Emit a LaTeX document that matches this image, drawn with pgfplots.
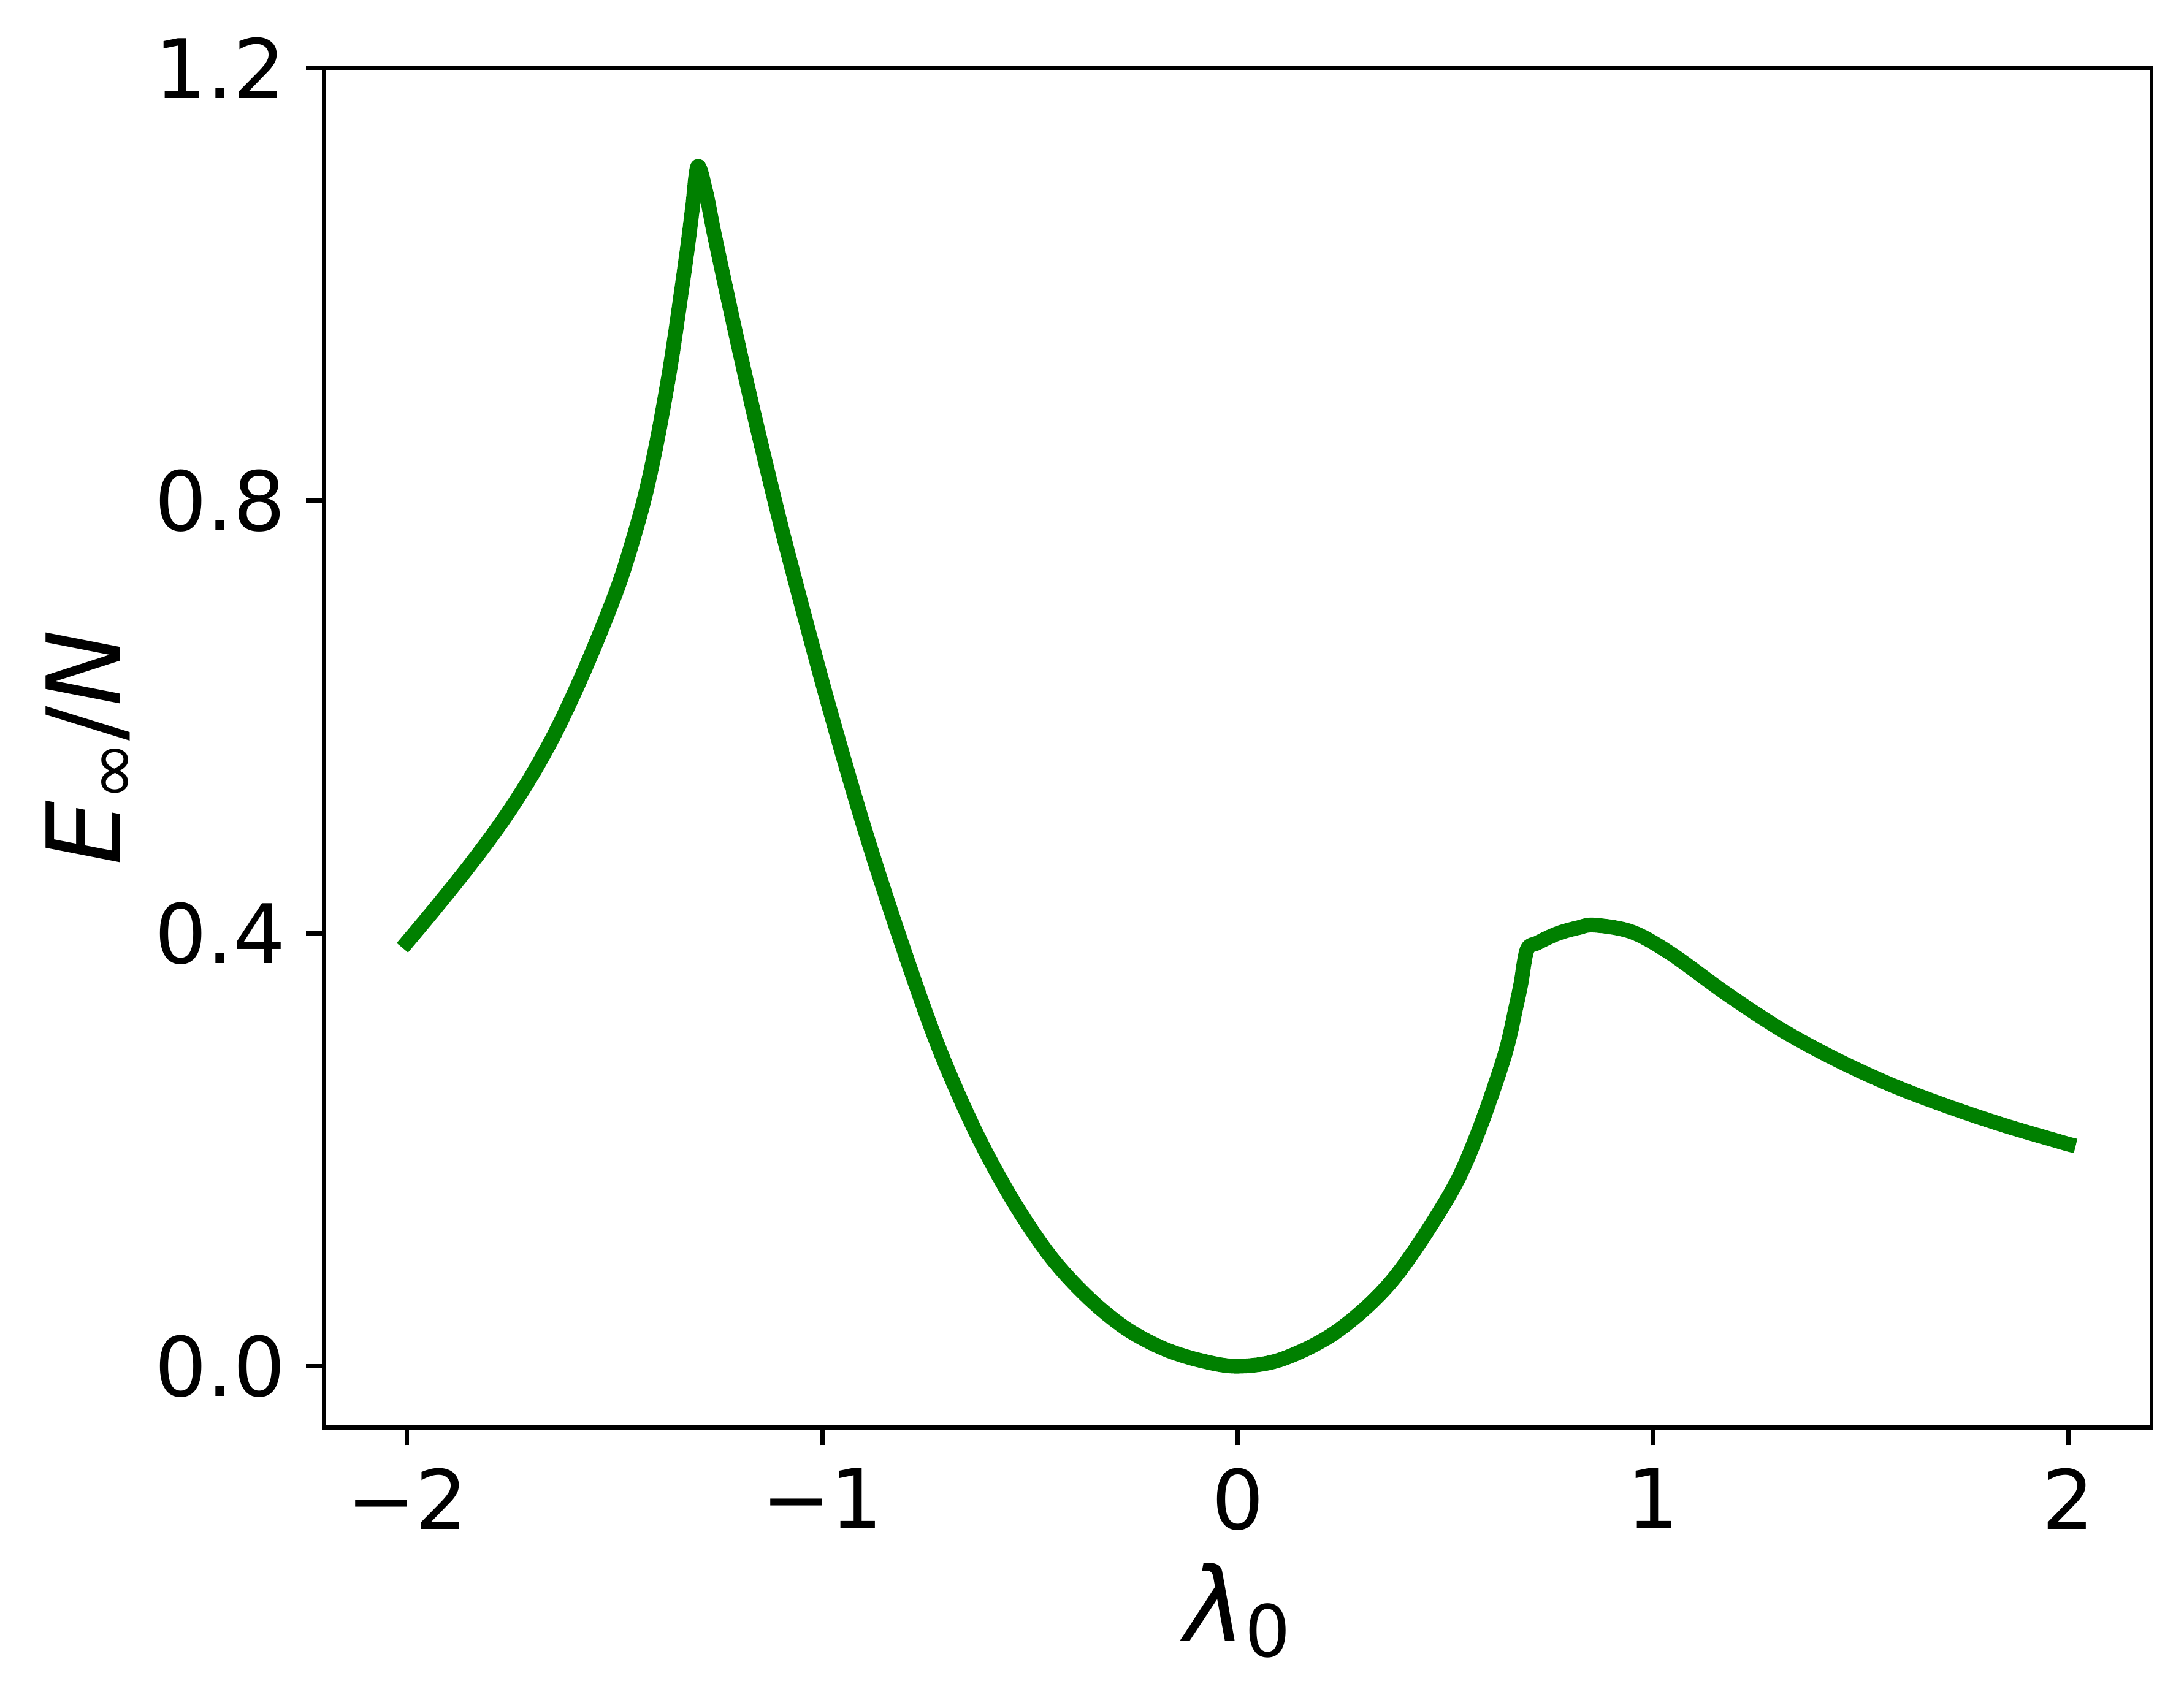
\documentclass[border=0pt]{standalone}
\usepackage{fontspec}
\setmainfont{DejaVu Sans}
\usepackage{pgfplots}
\pgfplotsset{compat=1.18}
\definecolor{mplgreen}{RGB}{0,128,0}

\begin{document}
\begin{tikzpicture}
\begin{axis}[
    name=ax,
    scale only axis,
    width=298.05pt, height=221.73pt,
    xmin=-2.2, xmax=2.2,
    ymin=-0.0565, ymax=1.2,
    xtick={-2,-1,0,1,2},
    xticklabels={−2,−1,0,1,2},
    ytick={0,0.4,0.8,1.2},
    yticklabels={0.0,0.4,0.8,1.2},
    tick pos=left,
    tick align=outside,
    major tick length=2.9pt,
    tick style={black, line width=0.67pt},
    axis line style={line width=0.67pt},
    ticklabel style={font=\fontsize{13.4}{16}\selectfont, inner sep=0pt},
    yticklabel style={anchor=east, xshift=-3.2pt},
    xticklabel style={anchor=north, yshift=-3.6pt},
    xlabel={\fontsize{16.7}{20}\selectfont\textit{λ}\raisebox{-2.6pt}{\fontsize{11.7}{12}\selectfont 0}},
    ylabel={\fontsize{16.7}{20}\selectfont\textit{E}\raisebox{-2.6pt}{\fontsize{11.7}{12}\selectfont ∞}/\textit{N}},
    xlabel style={at={([yshift=-34.84pt]axis description cs:0.5,0)}, anchor=base, inner sep=0pt},
    ylabel style={at={([xshift=-33.15pt]axis description cs:0,0.5)}, anchor=base, inner sep=0pt},
]

% E_inf/N versus lambda_0
\addplot[mplgreen, line width=2.4pt, line join=round, line cap=rect, smooth, tension=0.55] coordinates {
(-2.000,0.392) (-1.932,0.4233) (-1.846,0.4646) (-1.772,0.5031) (-1.708,0.5409)
(-1.654,0.5776) (-1.610,0.6119) (-1.566,0.6497) (-1.521,0.6916) (-1.4796,0.7346)
(-1.432,0.797) (-1.401,0.850) (-1.3751,0.904) (-1.357,0.947) (-1.327,1.028)
(-1.3125,1.072) (-1.300,1.109)
(-1.2805,1.085) (-1.261,1.0476) (-1.2288,0.9896) (-1.1968,0.9339) (-1.165,0.8805)
(-1.127,0.8193) (-1.0832,0.7518) (-0.9929,0.6218) (-0.9026,0.5017) (-0.8123,0.3942)
(-0.722,0.2965) (-0.6316,0.217) (-0.5413,0.153) (-0.451,0.1015) (-0.3607,0.0636)
(-0.2704,0.0352) (-0.18,0.0165) (-0.0898,0.0053) (0,0)
(0.1072,0.0066) (0.2408,0.0328) (0.3744,0.0804) (0.508,0.1571) (0.5748,0.2124)
(0.6416,0.2862) (0.6706,0.3335) (0.6818,0.3538) (0.6965,0.385)
(0.7211,0.3912) (0.7703,0.4000) (0.8194,0.4053) (0.8588,0.4077) (0.949,0.4014)
(1.0425,0.3815) (1.176,0.3445) (1.3097,0.3108) (1.4433,0.2830) (1.5769,0.2595)
(1.7105,0.2400) (1.844,0.2228) (1.9777,0.2077) (2.0,0.2052)
};

\end{axis}
\pgfresetboundingbox
\path[use as bounding box] ([shift={(-52.85pt,-44.47pt)}]ax.south west) rectangle ([shift={(5.3pt,11.1pt)}]ax.north east);
\end{tikzpicture}
\end{document}
